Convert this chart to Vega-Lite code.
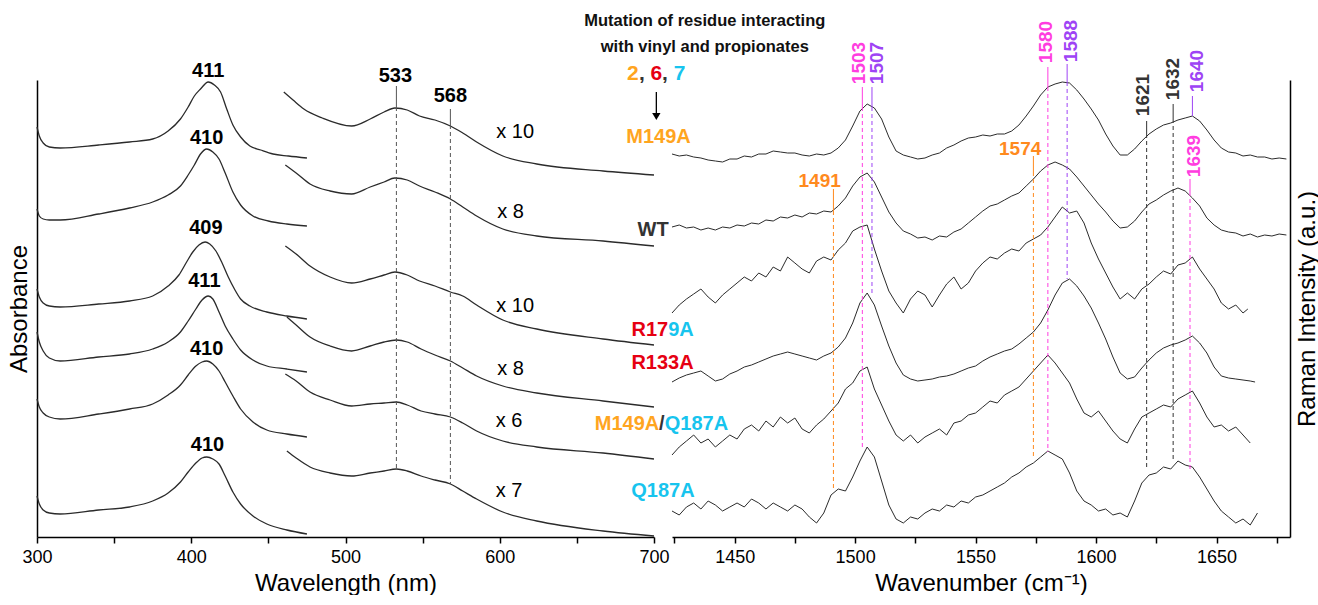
{
  "$schema": "https://vega.github.io/schema/vega-lite/v6.json",
  "autosize": {"type": "pad"},
  "padding": {"left": 7, "top": 12, "right": 0, "bottom": 0},
  "background": "white",
  "config": {
    "view": {"stroke": null},
    "font": "Liberation Sans",
    "axis": {"domainColor": "#000", "tickColor": "#000", "labelColor": "#000", "titleColor": "#000", "grid": false, "labelFontSize": 18, "titleFontSize": 24, "titleFontWeight": "normal", "domainWidth": 1.5, "tickWidth": 1.5, "labelFont": "Liberation Sans", "titleFont": "Liberation Sans"}
  },
  "datasets": {
    "uv": [
      {"t":"s1","x":300,"y":412},{"t":"s1","x":301.5,"y":403},{"t":"s1","x":304,"y":396},{"t":"s1","x":308,"y":392},{"t":"s1","x":315,"y":391},{"t":"s1","x":340,"y":394},{"t":"s1","x":360,"y":397},{"t":"s1","x":375,"y":400},{"t":"s1","x":385,"y":408},{"t":"s1","x":393,"y":420},{"t":"s1","x":398,"y":432},{"t":"s1","x":402,"y":443},{"t":"s1","x":406,"y":450},{"t":"s1","x":411,"y":457},{"t":"s1","x":415,"y":454},{"t":"s1","x":419,"y":447},{"t":"s1","x":423,"y":430},{"t":"s1","x":427,"y":414},{"t":"s1","x":432,"y":402},{"t":"s1","x":438,"y":393},{"t":"s1","x":445,"y":389},{"t":"s1","x":453,"y":385},{"t":"s1","x":463,"y":383},{"t":"s1","x":475,"y":381},
      {"t":"s2","x":300,"y":330},{"t":"s2","x":301.5,"y":323},{"t":"s2","x":304,"y":320},{"t":"s2","x":308,"y":319},{"t":"s2","x":315,"y":319},{"t":"s2","x":340,"y":325},{"t":"s2","x":360,"y":331},{"t":"s2","x":375,"y":337},{"t":"s2","x":385,"y":344},{"t":"s2","x":393,"y":353},{"t":"s2","x":398,"y":364},{"t":"s2","x":402,"y":374},{"t":"s2","x":406,"y":385},{"t":"s2","x":410,"y":390},{"t":"s2","x":414,"y":387},{"t":"s2","x":418,"y":380},{"t":"s2","x":422,"y":366},{"t":"s2","x":427,"y":347},{"t":"s2","x":432,"y":334},{"t":"s2","x":440,"y":323},{"t":"s2","x":450,"y":318},{"t":"s2","x":462,"y":315},{"t":"s2","x":475,"y":313},
      {"t":"s3","x":300,"y":250},{"t":"s3","x":301.5,"y":242},{"t":"s3","x":304,"y":236},{"t":"s3","x":308,"y":233},{"t":"s3","x":315,"y":232},{"t":"s3","x":340,"y":235},{"t":"s3","x":360,"y":238},{"t":"s3","x":375,"y":243},{"t":"s3","x":385,"y":253},{"t":"s3","x":392,"y":264},{"t":"s3","x":397,"y":277},{"t":"s3","x":401,"y":287},{"t":"s3","x":405,"y":294},{"t":"s3","x":409,"y":297},{"t":"s3","x":412,"y":295},{"t":"s3","x":416,"y":288},{"t":"s3","x":420,"y":276},{"t":"s3","x":424,"y":262},{"t":"s3","x":428,"y":250},{"t":"s3","x":432,"y":240},{"t":"s3","x":438,"y":233},{"t":"s3","x":449,"y":227},{"t":"s3","x":462,"y":223},{"t":"s3","x":475,"y":220},
      {"t":"s4","x":300,"y":207},{"t":"s4","x":301.5,"y":197},{"t":"s4","x":304,"y":188},{"t":"s4","x":308,"y":181},{"t":"s4","x":315,"y":178},{"t":"s4","x":340,"y":182},{"t":"s4","x":360,"y":185},{"t":"s4","x":375,"y":190},{"t":"s4","x":385,"y":197},{"t":"s4","x":393,"y":207},{"t":"s4","x":398,"y":218},{"t":"s4","x":403,"y":230},{"t":"s4","x":407,"y":239},{"t":"s4","x":411,"y":243},{"t":"s4","x":414,"y":240},{"t":"s4","x":418,"y":227},{"t":"s4","x":422,"y":213},{"t":"s4","x":427,"y":200},{"t":"s4","x":432,"y":189},{"t":"s4","x":440,"y":179},{"t":"s4","x":449,"y":173},{"t":"s4","x":462,"y":170},{"t":"s4","x":475,"y":167},
      {"t":"s5","x":300,"y":140},{"t":"s5","x":301.5,"y":132},{"t":"s5","x":304,"y":126},{"t":"s5","x":308,"y":122},{"t":"s5","x":315,"y":120},{"t":"s5","x":340,"y":125},{"t":"s5","x":360,"y":130},{"t":"s5","x":375,"y":135},{"t":"s5","x":385,"y":144},{"t":"s5","x":393,"y":154},{"t":"s5","x":398,"y":164},{"t":"s5","x":403,"y":173},{"t":"s5","x":407,"y":177},{"t":"s5","x":410,"y":178},{"t":"s5","x":414,"y":175},{"t":"s5","x":418,"y":168},{"t":"s5","x":422,"y":157},{"t":"s5","x":427,"y":143},{"t":"s5","x":432,"y":130},{"t":"s5","x":440,"y":117},{"t":"s5","x":449,"y":109},{"t":"s5","x":462,"y":105},{"t":"s5","x":475,"y":102},
      {"t":"s6","x":300,"y":43},{"t":"s6","x":301.5,"y":35},{"t":"s6","x":304,"y":29},{"t":"s6","x":308,"y":26},{"t":"s6","x":315,"y":25},{"t":"s6","x":340,"y":29},{"t":"s6","x":360,"y":32},{"t":"s6","x":375,"y":38},{"t":"s6","x":385,"y":46},{"t":"s6","x":393,"y":57},{"t":"s6","x":398,"y":67},{"t":"s6","x":403,"y":76},{"t":"s6","x":407,"y":81},{"t":"s6","x":410,"y":82},{"t":"s6","x":414,"y":80},{"t":"s6","x":418,"y":75},{"t":"s6","x":422,"y":63},{"t":"s6","x":427,"y":47},{"t":"s6","x":432,"y":35},{"t":"s6","x":440,"y":23},{"t":"s6","x":449,"y":15},{"t":"s6","x":462,"y":9},{"t":"s6","x":475,"y":5},
      {"t":"v1","x":460,"y":447},{"t":"v1","x":466,"y":439},{"t":"v1","x":473,"y":430},{"t":"v1","x":485,"y":421},{"t":"v1","x":504,"y":413},{"t":"v1","x":516,"y":420},{"t":"v1","x":525,"y":427},{"t":"v1","x":532,"y":431},{"t":"v1","x":540,"y":429},{"t":"v1","x":548,"y":423},{"t":"v1","x":558,"y":419},{"t":"v1","x":568,"y":413},{"t":"v1","x":576,"y":406},{"t":"v1","x":585,"y":397},{"t":"v1","x":602,"y":383},{"t":"v1","x":624,"y":375},{"t":"v1","x":667,"y":368},{"t":"v1","x":700,"y":364},
      {"t":"v2","x":461,"y":374},{"t":"v2","x":468,"y":366},{"t":"v2","x":477,"y":355},{"t":"v2","x":490,"y":348},{"t":"v2","x":504,"y":345},{"t":"v2","x":516,"y":352},{"t":"v2","x":525,"y":357},{"t":"v2","x":532,"y":361},{"t":"v2","x":540,"y":359},{"t":"v2","x":548,"y":353},{"t":"v2","x":558,"y":347},{"t":"v2","x":568,"y":340},{"t":"v2","x":576,"y":332},{"t":"v2","x":585,"y":323},{"t":"v2","x":602,"y":310},{"t":"v2","x":624,"y":303},{"t":"v2","x":667,"y":298},{"t":"v2","x":700,"y":293},
      {"t":"v3","x":461,"y":293},{"t":"v3","x":468,"y":285},{"t":"v3","x":477,"y":273},{"t":"v3","x":490,"y":262},{"t":"v3","x":504,"y":256},{"t":"v3","x":516,"y":260},{"t":"v3","x":525,"y":264},{"t":"v3","x":532,"y":267},{"t":"v3","x":540,"y":264},{"t":"v3","x":548,"y":258},{"t":"v3","x":558,"y":253},{"t":"v3","x":568,"y":247},{"t":"v3","x":576,"y":243},{"t":"v3","x":585,"y":234},{"t":"v3","x":602,"y":219},{"t":"v3","x":624,"y":210},{"t":"v3","x":667,"y":200},{"t":"v3","x":700,"y":194},
      {"t":"v4","x":462,"y":222},{"t":"v4","x":468,"y":214},{"t":"v4","x":477,"y":202},{"t":"v4","x":490,"y":193},{"t":"v4","x":504,"y":188},{"t":"v4","x":516,"y":193},{"t":"v4","x":525,"y":197},{"t":"v4","x":533,"y":199},{"t":"v4","x":540,"y":197},{"t":"v4","x":549,"y":190},{"t":"v4","x":558,"y":184},{"t":"v4","x":568,"y":178},{"t":"v4","x":576,"y":171},{"t":"v4","x":585,"y":163},{"t":"v4","x":602,"y":153},{"t":"v4","x":624,"y":146},{"t":"v4","x":667,"y":138},{"t":"v4","x":700,"y":132},
      {"t":"v5","x":461,"y":165},{"t":"v5","x":468,"y":158},{"t":"v5","x":477,"y":147},{"t":"v5","x":490,"y":139},{"t":"v5","x":504,"y":133},{"t":"v5","x":516,"y":135},{"t":"v5","x":525,"y":136},{"t":"v5","x":533,"y":137},{"t":"v5","x":540,"y":134},{"t":"v5","x":549,"y":128},{"t":"v5","x":558,"y":125},{"t":"v5","x":568,"y":122},{"t":"v5","x":576,"y":116},{"t":"v5","x":585,"y":108},{"t":"v5","x":602,"y":98},{"t":"v5","x":624,"y":92},{"t":"v5","x":667,"y":86},{"t":"v5","x":700,"y":80},
      {"t":"v6","x":462,"y":88},{"t":"v6","x":468,"y":81},{"t":"v6","x":477,"y":72},{"t":"v6","x":490,"y":66},{"t":"v6","x":504,"y":63},{"t":"v6","x":516,"y":66},{"t":"v6","x":525,"y":68},{"t":"v6","x":533,"y":70},{"t":"v6","x":540,"y":68},{"t":"v6","x":549,"y":63},{"t":"v6","x":558,"y":59},{"t":"v6","x":568,"y":55},{"t":"v6","x":576,"y":48},{"t":"v6","x":585,"y":40},{"t":"v6","x":602,"y":27},{"t":"v6","x":624,"y":18},{"t":"v6","x":667,"y":8},{"t":"v6","x":700,"y":3}
    ],
    "raman": [
      {"t":"R1","x":1424,"y":385},{"t":"R1","x":1427,"y":383},{"t":"R1","x":1430,"y":384},{"t":"R1","x":1433,"y":382},{"t":"R1","x":1436,"y":381},{"t":"R1","x":1439,"y":379},{"t":"R1","x":1442,"y":378},{"t":"R1","x":1445,"y":377},{"t":"R1","x":1448,"y":380},{"t":"R1","x":1451,"y":380},{"t":"R1","x":1454,"y":383},{"t":"R1","x":1457,"y":382},{"t":"R1","x":1460,"y":385},{"t":"R1","x":1463,"y":385},{"t":"R1","x":1466,"y":388},{"t":"R1","x":1469,"y":387},{"t":"R1","x":1472,"y":386},{"t":"R1","x":1475,"y":386},{"t":"R1","x":1478,"y":384},{"t":"R1","x":1481,"y":383},{"t":"R1","x":1484,"y":385},{"t":"R1","x":1487,"y":384},{"t":"R1","x":1490,"y":386},{"t":"R1","x":1493,"y":391},{"t":"R1","x":1496,"y":399},{"t":"R1","x":1499,"y":413},{"t":"R1","x":1502,"y":428},{"t":"R1","x":1505,"y":435},{"t":"R1","x":1508,"y":431},{"t":"R1","x":1511,"y":420},{"t":"R1","x":1514,"y":402},{"t":"R1","x":1517,"y":388},{"t":"R1","x":1520,"y":384},{"t":"R1","x":1523,"y":382},{"t":"R1","x":1526,"y":380},{"t":"R1","x":1529,"y":381},{"t":"R1","x":1532,"y":384},{"t":"R1","x":1535,"y":386},{"t":"R1","x":1538,"y":391},{"t":"R1","x":1541,"y":394},{"t":"R1","x":1544,"y":398},{"t":"R1","x":1547,"y":401},{"t":"R1","x":1550,"y":402},{"t":"R1","x":1553,"y":404},{"t":"R1","x":1556,"y":403},{"t":"R1","x":1559,"y":405},{"t":"R1","x":1562,"y":405},{"t":"R1","x":1565,"y":408},{"t":"R1","x":1568,"y":414},{"t":"R1","x":1571,"y":423},{"t":"R1","x":1574,"y":433},{"t":"R1","x":1577,"y":444},{"t":"R1","x":1580,"y":452},{"t":"R1","x":1583,"y":455},{"t":"R1","x":1586,"y":457},{"t":"R1","x":1589,"y":456},{"t":"R1","x":1592,"y":449},{"t":"R1","x":1595,"y":440},{"t":"R1","x":1598,"y":430},{"t":"R1","x":1601,"y":419},{"t":"R1","x":1604,"y":405},{"t":"R1","x":1607,"y":393},{"t":"R1","x":1610,"y":384},{"t":"R1","x":1613,"y":384},{"t":"R1","x":1616,"y":390},{"t":"R1","x":1619,"y":398},{"t":"R1","x":1622,"y":405},{"t":"R1","x":1625,"y":410},{"t":"R1","x":1628,"y":414},{"t":"R1","x":1631,"y":416},{"t":"R1","x":1634,"y":419},{"t":"R1","x":1637,"y":421},{"t":"R1","x":1640,"y":423},{"t":"R1","x":1643,"y":418},{"t":"R1","x":1646,"y":409},{"t":"R1","x":1649,"y":399},{"t":"R1","x":1652,"y":391},{"t":"R1","x":1655,"y":387},{"t":"R1","x":1658,"y":386},{"t":"R1","x":1661,"y":383},{"t":"R1","x":1664,"y":384},{"t":"R1","x":1667,"y":382},{"t":"R1","x":1670,"y":382},{"t":"R1","x":1673,"y":380},{"t":"R1","x":1676,"y":381},{"t":"R1","x":1679,"y":380},
      {"t":"R2","x":1424,"y":312},{"t":"R2","x":1427,"y":314},{"t":"R2","x":1430,"y":311},{"t":"R2","x":1433,"y":312},{"t":"R2","x":1436,"y":309},{"t":"R2","x":1439,"y":311},{"t":"R2","x":1442,"y":309},{"t":"R2","x":1445,"y":312},{"t":"R2","x":1448,"y":311},{"t":"R2","x":1451,"y":314},{"t":"R2","x":1454,"y":313},{"t":"R2","x":1457,"y":316},{"t":"R2","x":1460,"y":315},{"t":"R2","x":1463,"y":319},{"t":"R2","x":1466,"y":318},{"t":"R2","x":1469,"y":322},{"t":"R2","x":1472,"y":321},{"t":"R2","x":1475,"y":324},{"t":"R2","x":1478,"y":322},{"t":"R2","x":1481,"y":326},{"t":"R2","x":1484,"y":325},{"t":"R2","x":1487,"y":328},{"t":"R2","x":1490,"y":327},{"t":"R2","x":1493,"y":333},{"t":"R2","x":1496,"y":341},{"t":"R2","x":1499,"y":353},{"t":"R2","x":1502,"y":362},{"t":"R2","x":1505,"y":366},{"t":"R2","x":1508,"y":357},{"t":"R2","x":1511,"y":342},{"t":"R2","x":1514,"y":327},{"t":"R2","x":1517,"y":316},{"t":"R2","x":1520,"y":308},{"t":"R2","x":1523,"y":305},{"t":"R2","x":1526,"y":301},{"t":"R2","x":1529,"y":302},{"t":"R2","x":1532,"y":299},{"t":"R2","x":1535,"y":303},{"t":"R2","x":1538,"y":302},{"t":"R2","x":1541,"y":307},{"t":"R2","x":1544,"y":310},{"t":"R2","x":1547,"y":316},{"t":"R2","x":1550,"y":322},{"t":"R2","x":1553,"y":328},{"t":"R2","x":1556,"y":333},{"t":"R2","x":1559,"y":335},{"t":"R2","x":1562,"y":339},{"t":"R2","x":1565,"y":343},{"t":"R2","x":1568,"y":346},{"t":"R2","x":1571,"y":353},{"t":"R2","x":1574,"y":360},{"t":"R2","x":1577,"y":368},{"t":"R2","x":1580,"y":374},{"t":"R2","x":1583,"y":377},{"t":"R2","x":1586,"y":374},{"t":"R2","x":1589,"y":370},{"t":"R2","x":1592,"y":362},{"t":"R2","x":1595,"y":353},{"t":"R2","x":1598,"y":344},{"t":"R2","x":1601,"y":335},{"t":"R2","x":1604,"y":327},{"t":"R2","x":1607,"y":318},{"t":"R2","x":1610,"y":311},{"t":"R2","x":1613,"y":312},{"t":"R2","x":1616,"y":318},{"t":"R2","x":1619,"y":327},{"t":"R2","x":1622,"y":335},{"t":"R2","x":1625,"y":339},{"t":"R2","x":1628,"y":344},{"t":"R2","x":1631,"y":348},{"t":"R2","x":1634,"y":351},{"t":"R2","x":1637,"y":348},{"t":"R2","x":1640,"y":341},{"t":"R2","x":1643,"y":333},{"t":"R2","x":1646,"y":321},{"t":"R2","x":1649,"y":314},{"t":"R2","x":1652,"y":309},{"t":"R2","x":1655,"y":307},{"t":"R2","x":1658,"y":306},{"t":"R2","x":1661,"y":303},{"t":"R2","x":1664,"y":305},{"t":"R2","x":1667,"y":302},{"t":"R2","x":1670,"y":304},{"t":"R2","x":1673,"y":303},{"t":"R2","x":1676,"y":305},{"t":"R2","x":1679,"y":304},
      {"t":"R3","x":1424,"y":226},{"t":"R3","x":1427,"y":234},{"t":"R3","x":1430,"y":240},{"t":"R3","x":1433,"y":245},{"t":"R3","x":1436,"y":250},{"t":"R3","x":1439,"y":242},{"t":"R3","x":1442,"y":236},{"t":"R3","x":1445,"y":244},{"t":"R3","x":1448,"y":250},{"t":"R3","x":1451,"y":256},{"t":"R3","x":1454,"y":262},{"t":"R3","x":1457,"y":258},{"t":"R3","x":1460,"y":266},{"t":"R3","x":1463,"y":262},{"t":"R3","x":1466,"y":272},{"t":"R3","x":1469,"y":268},{"t":"R3","x":1472,"y":282},{"t":"R3","x":1475,"y":276},{"t":"R3","x":1478,"y":270},{"t":"R3","x":1481,"y":266},{"t":"R3","x":1484,"y":278},{"t":"R3","x":1487,"y":282},{"t":"R3","x":1490,"y":279},{"t":"R3","x":1493,"y":289},{"t":"R3","x":1496,"y":296},{"t":"R3","x":1499,"y":308},{"t":"R3","x":1502,"y":312},{"t":"R3","x":1505,"y":314},{"t":"R3","x":1508,"y":290},{"t":"R3","x":1511,"y":268},{"t":"R3","x":1514,"y":248},{"t":"R3","x":1517,"y":236},{"t":"R3","x":1520,"y":226},{"t":"R3","x":1523,"y":240},{"t":"R3","x":1526,"y":248},{"t":"R3","x":1529,"y":244},{"t":"R3","x":1532,"y":232},{"t":"R3","x":1535,"y":244},{"t":"R3","x":1538,"y":255},{"t":"R3","x":1541,"y":262},{"t":"R3","x":1544,"y":250},{"t":"R3","x":1547,"y":256},{"t":"R3","x":1550,"y":268},{"t":"R3","x":1553,"y":276},{"t":"R3","x":1556,"y":282},{"t":"R3","x":1559,"y":280},{"t":"R3","x":1562,"y":286},{"t":"R3","x":1565,"y":290},{"t":"R3","x":1568,"y":288},{"t":"R3","x":1571,"y":296},{"t":"R3","x":1574,"y":300},{"t":"R3","x":1577,"y":304},{"t":"R3","x":1580,"y":312},{"t":"R3","x":1583,"y":322},{"t":"R3","x":1586,"y":332},{"t":"R3","x":1589,"y":326},{"t":"R3","x":1592,"y":328},{"t":"R3","x":1595,"y":316},{"t":"R3","x":1598,"y":296},{"t":"R3","x":1601,"y":280},{"t":"R3","x":1604,"y":266},{"t":"R3","x":1607,"y":252},{"t":"R3","x":1610,"y":240},{"t":"R3","x":1613,"y":246},{"t":"R3","x":1616,"y":240},{"t":"R3","x":1619,"y":250},{"t":"R3","x":1622,"y":255},{"t":"R3","x":1625,"y":262},{"t":"R3","x":1628,"y":268},{"t":"R3","x":1631,"y":265},{"t":"R3","x":1634,"y":274},{"t":"R3","x":1637,"y":276},{"t":"R3","x":1640,"y":282},{"t":"R3","x":1643,"y":270},{"t":"R3","x":1646,"y":260},{"t":"R3","x":1649,"y":250},{"t":"R3","x":1652,"y":236},{"t":"R3","x":1655,"y":230},{"t":"R3","x":1658,"y":234},{"t":"R3","x":1661,"y":226},{"t":"R3","x":1663,"y":230},
      {"t":"R4","x":1424,"y":157},{"t":"R4","x":1427,"y":161},{"t":"R4","x":1430,"y":164},{"t":"R4","x":1433,"y":166},{"t":"R4","x":1436,"y":168},{"t":"R4","x":1439,"y":163},{"t":"R4","x":1442,"y":158},{"t":"R4","x":1445,"y":160},{"t":"R4","x":1448,"y":165},{"t":"R4","x":1451,"y":168},{"t":"R4","x":1454,"y":172},{"t":"R4","x":1457,"y":174},{"t":"R4","x":1460,"y":177},{"t":"R4","x":1463,"y":180},{"t":"R4","x":1466,"y":183},{"t":"R4","x":1469,"y":185},{"t":"R4","x":1472,"y":187},{"t":"R4","x":1475,"y":185},{"t":"R4","x":1478,"y":183},{"t":"R4","x":1481,"y":181},{"t":"R4","x":1484,"y":179},{"t":"R4","x":1487,"y":183},{"t":"R4","x":1490,"y":186},{"t":"R4","x":1493,"y":192},{"t":"R4","x":1496,"y":201},{"t":"R4","x":1499,"y":216},{"t":"R4","x":1502,"y":236},{"t":"R4","x":1505,"y":246},{"t":"R4","x":1508,"y":234},{"t":"R4","x":1511,"y":213},{"t":"R4","x":1514,"y":193},{"t":"R4","x":1517,"y":176},{"t":"R4","x":1520,"y":164},{"t":"R4","x":1523,"y":160},{"t":"R4","x":1526,"y":158},{"t":"R4","x":1529,"y":159},{"t":"R4","x":1532,"y":160},{"t":"R4","x":1535,"y":162},{"t":"R4","x":1538,"y":163},{"t":"R4","x":1541,"y":165},{"t":"R4","x":1544,"y":168},{"t":"R4","x":1547,"y":171},{"t":"R4","x":1550,"y":173},{"t":"R4","x":1553,"y":178},{"t":"R4","x":1556,"y":182},{"t":"R4","x":1559,"y":185},{"t":"R4","x":1562,"y":188},{"t":"R4","x":1565,"y":190},{"t":"R4","x":1568,"y":195},{"t":"R4","x":1571,"y":201},{"t":"R4","x":1574,"y":207},{"t":"R4","x":1577,"y":216},{"t":"R4","x":1580,"y":229},{"t":"R4","x":1583,"y":244},{"t":"R4","x":1586,"y":256},{"t":"R4","x":1589,"y":260},{"t":"R4","x":1592,"y":253},{"t":"R4","x":1595,"y":243},{"t":"R4","x":1598,"y":231},{"t":"R4","x":1601,"y":216},{"t":"R4","x":1604,"y":200},{"t":"R4","x":1607,"y":182},{"t":"R4","x":1610,"y":166},{"t":"R4","x":1613,"y":160},{"t":"R4","x":1616,"y":162},{"t":"R4","x":1619,"y":171},{"t":"R4","x":1622,"y":179},{"t":"R4","x":1625,"y":186},{"t":"R4","x":1628,"y":191},{"t":"R4","x":1631,"y":194},{"t":"R4","x":1634,"y":196},{"t":"R4","x":1637,"y":199},{"t":"R4","x":1640,"y":203},{"t":"R4","x":1643,"y":196},{"t":"R4","x":1646,"y":186},{"t":"R4","x":1649,"y":172},{"t":"R4","x":1652,"y":163},{"t":"R4","x":1655,"y":161},{"t":"R4","x":1658,"y":160},{"t":"R4","x":1661,"y":159},{"t":"R4","x":1664,"y":158},{"t":"R4","x":1666,"y":157},
      {"t":"R5","x":1424,"y":84},{"t":"R5","x":1427,"y":92},{"t":"R5","x":1430,"y":98},{"t":"R5","x":1433,"y":104},{"t":"R5","x":1436,"y":96},{"t":"R5","x":1439,"y":100},{"t":"R5","x":1442,"y":92},{"t":"R5","x":1445,"y":98},{"t":"R5","x":1448,"y":104},{"t":"R5","x":1451,"y":100},{"t":"R5","x":1454,"y":110},{"t":"R5","x":1457,"y":114},{"t":"R5","x":1460,"y":108},{"t":"R5","x":1463,"y":118},{"t":"R5","x":1466,"y":112},{"t":"R5","x":1469,"y":122},{"t":"R5","x":1472,"y":116},{"t":"R5","x":1475,"y":121},{"t":"R5","x":1478,"y":110},{"t":"R5","x":1481,"y":106},{"t":"R5","x":1484,"y":114},{"t":"R5","x":1487,"y":120},{"t":"R5","x":1490,"y":128},{"t":"R5","x":1493,"y":136},{"t":"R5","x":1496,"y":150},{"t":"R5","x":1499,"y":156},{"t":"R5","x":1502,"y":168},{"t":"R5","x":1505,"y":172},{"t":"R5","x":1508,"y":150},{"t":"R5","x":1511,"y":134},{"t":"R5","x":1514,"y":118},{"t":"R5","x":1517,"y":104},{"t":"R5","x":1520,"y":98},{"t":"R5","x":1523,"y":104},{"t":"R5","x":1526,"y":96},{"t":"R5","x":1529,"y":102},{"t":"R5","x":1532,"y":106},{"t":"R5","x":1535,"y":110},{"t":"R5","x":1538,"y":104},{"t":"R5","x":1541,"y":116},{"t":"R5","x":1544,"y":118},{"t":"R5","x":1547,"y":124},{"t":"R5","x":1550,"y":126},{"t":"R5","x":1553,"y":132},{"t":"R5","x":1556,"y":138},{"t":"R5","x":1559,"y":136},{"t":"R5","x":1562,"y":144},{"t":"R5","x":1565,"y":148},{"t":"R5","x":1568,"y":152},{"t":"R5","x":1571,"y":160},{"t":"R5","x":1574,"y":168},{"t":"R5","x":1577,"y":176},{"t":"R5","x":1580,"y":184},{"t":"R5","x":1583,"y":176},{"t":"R5","x":1586,"y":166},{"t":"R5","x":1589,"y":156},{"t":"R5","x":1592,"y":140},{"t":"R5","x":1595,"y":126},{"t":"R5","x":1598,"y":122},{"t":"R5","x":1601,"y":128},{"t":"R5","x":1604,"y":118},{"t":"R5","x":1607,"y":108},{"t":"R5","x":1610,"y":100},{"t":"R5","x":1613,"y":96},{"t":"R5","x":1616,"y":110},{"t":"R5","x":1619,"y":122},{"t":"R5","x":1622,"y":126},{"t":"R5","x":1625,"y":130},{"t":"R5","x":1628,"y":134},{"t":"R5","x":1631,"y":132},{"t":"R5","x":1634,"y":140},{"t":"R5","x":1637,"y":144},{"t":"R5","x":1640,"y":148},{"t":"R5","x":1643,"y":136},{"t":"R5","x":1646,"y":122},{"t":"R5","x":1649,"y":112},{"t":"R5","x":1652,"y":114},{"t":"R5","x":1655,"y":108},{"t":"R5","x":1658,"y":112},{"t":"R5","x":1661,"y":104},{"t":"R5","x":1664,"y":96},
      {"t":"R6","x":1424,"y":28},{"t":"R6","x":1427,"y":24},{"t":"R6","x":1430,"y":32},{"t":"R6","x":1433,"y":36},{"t":"R6","x":1436,"y":30},{"t":"R6","x":1439,"y":38},{"t":"R6","x":1442,"y":34},{"t":"R6","x":1445,"y":28},{"t":"R6","x":1448,"y":32},{"t":"R6","x":1451,"y":36},{"t":"R6","x":1454,"y":32},{"t":"R6","x":1457,"y":40},{"t":"R6","x":1460,"y":36},{"t":"R6","x":1463,"y":30},{"t":"R6","x":1466,"y":36},{"t":"R6","x":1469,"y":32},{"t":"R6","x":1472,"y":28},{"t":"R6","x":1475,"y":34},{"t":"R6","x":1478,"y":30},{"t":"R6","x":1481,"y":22},{"t":"R6","x":1484,"y":16},{"t":"R6","x":1487,"y":26},{"t":"R6","x":1490,"y":44},{"t":"R6","x":1493,"y":50},{"t":"R6","x":1496,"y":48},{"t":"R6","x":1499,"y":62},{"t":"R6","x":1502,"y":78},{"t":"R6","x":1505,"y":92},{"t":"R6","x":1508,"y":82},{"t":"R6","x":1511,"y":58},{"t":"R6","x":1514,"y":34},{"t":"R6","x":1517,"y":20},{"t":"R6","x":1520,"y":16},{"t":"R6","x":1523,"y":22},{"t":"R6","x":1526,"y":20},{"t":"R6","x":1529,"y":26},{"t":"R6","x":1532,"y":30},{"t":"R6","x":1535,"y":28},{"t":"R6","x":1538,"y":34},{"t":"R6","x":1541,"y":32},{"t":"R6","x":1544,"y":38},{"t":"R6","x":1547,"y":36},{"t":"R6","x":1550,"y":42},{"t":"R6","x":1553,"y":44},{"t":"R6","x":1556,"y":48},{"t":"R6","x":1559,"y":52},{"t":"R6","x":1562,"y":56},{"t":"R6","x":1565,"y":62},{"t":"R6","x":1568,"y":66},{"t":"R6","x":1571,"y":72},{"t":"R6","x":1574,"y":76},{"t":"R6","x":1577,"y":82},{"t":"R6","x":1580,"y":88},{"t":"R6","x":1583,"y":84},{"t":"R6","x":1586,"y":80},{"t":"R6","x":1589,"y":66},{"t":"R6","x":1592,"y":48},{"t":"R6","x":1595,"y":38},{"t":"R6","x":1598,"y":34},{"t":"R6","x":1601,"y":28},{"t":"R6","x":1604,"y":30},{"t":"R6","x":1607,"y":24},{"t":"R6","x":1610,"y":26},{"t":"R6","x":1613,"y":22},{"t":"R6","x":1616,"y":38},{"t":"R6","x":1619,"y":56},{"t":"R6","x":1622,"y":64},{"t":"R6","x":1625,"y":66},{"t":"R6","x":1628,"y":72},{"t":"R6","x":1631,"y":70},{"t":"R6","x":1634,"y":78},{"t":"R6","x":1637,"y":74},{"t":"R6","x":1640,"y":72},{"t":"R6","x":1643,"y":62},{"t":"R6","x":1646,"y":50},{"t":"R6","x":1649,"y":38},{"t":"R6","x":1652,"y":28},{"t":"R6","x":1655,"y":22},{"t":"R6","x":1658,"y":16},{"t":"R6","x":1661,"y":20},{"t":"R6","x":1664,"y":14},{"t":"R6","x":1667,"y":26}
    ],
    "refL": [
      {"x":533,"y":453,"y2":432,"seg":"stem"},{"x":533,"y":432,"y2":70,"seg":"guide"},
      {"x":568,"y":430,"y2":414,"seg":"stem"},{"x":568,"y":414,"y2":55,"seg":"guide"}
    ],
    "refR": [
      {"x":1491,"y":350,"y2":328,"set":"orange","seg":"stem"},{"x":1491,"y":328,"y2":50,"set":"orange","seg":"guide"},
      {"x":1503,"y":452,"y2":432,"set":"magenta","seg":"stem"},{"x":1503,"y":432,"y2":90,"set":"magenta","seg":"guide"},
      {"x":1507,"y":452,"y2":432,"set":"purple","seg":"stem"},{"x":1507,"y":432,"y2":244,"set":"purple","seg":"guide"},
      {"x":1574,"y":383,"y2":367,"set":"orange","seg":"stem"},{"x":1574,"y":367,"y2":80,"set":"orange","seg":"guide"},
      {"x":1580,"y":472,"y2":452,"set":"magenta","seg":"stem"},{"x":1580,"y":452,"y2":87,"set":"magenta","seg":"guide"},
      {"x":1588,"y":475,"y2":457,"set":"purple","seg":"stem"},{"x":1588,"y":457,"y2":260,"set":"purple","seg":"guide"},
      {"x":1621,"y":418,"y2":405,"set":"black","seg":"stem"},{"x":1621,"y":405,"y2":70,"set":"black","seg":"guide"},
      {"x":1632,"y":435,"y2":420,"set":"black","seg":"stem"},{"x":1632,"y":420,"y2":80,"set":"black","seg":"guide"},
      {"x":1640,"y":443,"y2":423,"set":"purple","seg":"stem"},
      {"x":1639,"y":360,"y2":347,"set":"magenta","seg":"stem"},{"x":1639,"y":347,"y2":70,"set":"magenta","seg":"guide"}
    ],
    "peakL": [
      {"x":411,"y":468,"text":"411"},{"x":410,"y":401,"text":"410"},{"x":409.5,"y":311,"text":"409"},{"x":408.5,"y":258,"text":"411"},{"x":410,"y":190,"text":"410"},{"x":410.5,"y":94,"text":"410"},{"x":532.3,"y":463,"text":"533"},{"x":568,"y":443,"text":"568"}
    ],
    "multL": [
      {"x":610,"y":407,"text":"x 10"},{"x":607,"y":327,"text":"x 8"},{"x":610,"y":233,"text":"x 10"},{"x":607,"y":170,"text":"x 8"},{"x":606,"y":118,"text":"x 6"},{"x":606,"y":48,"text":"x 7"}
    ],
    "rotR": [
      {"x":1501.6,"y":476,"text":"1503","set":"magenta"},{"x":1508.9,"y":476,"text":"1507","set":"purple"},{"x":1579.3,"y":497,"text":"1580","set":"magenta"},{"x":1589.7,"y":498,"text":"1588","set":"purple"},{"x":1619.6,"y":444,"text":"1621","set":"black"},{"x":1632.1,"y":460,"text":"1632","set":"black"},{"x":1642,"y":468,"text":"1640","set":"purple"},{"x":1640.8,"y":383,"text":"1639","set":"magenta"}
    ],
    "horR": [
      {"x":1485.3,"y":358,"text":"1491","set":"orange"},{"x":1568.5,"y":390,"text":"1574","set":"orange"}
    ],
    "titleR": [
      {"x":1437.6,"y":518,"text":"Mutation of residue interacting"},{"x":1437.6,"y":492,"text":"with vinyl and propionates"}
    ],
    "numsR": [
      {"x":1407.8,"y":465,"text":"2","set":"gold"},{"x":1411.5,"y":465,"text":",","set":"black"},{"x":1417.5,"y":465,"text":"6","set":"red"},{"x":1421.1,"y":465,"text":",","set":"black"},{"x":1427.2,"y":465,"text":"7","set":"cyan"}
    ],
    "arrowR": [{"x":1417.5,"y":447,"y2":426}],
    "headR": [{"x":1417.5,"y":422.5}],
    "mutRight": [
      {"x":1431.8,"y":402,"text":"M149A","set":"gold"},{"x":1422.6,"y":309,"text":"WT","set":"black"},{"x":1422.4,"y":209,"text":"R17","set":"red"},{"x":1433,"y":176,"text":"R133A","set":"red"},{"x":1418.7,"y":115,"text":"M149A","set":"gold"},{"x":1433.4,"y":48,"text":"Q187A","set":"cyan"}
    ],
    "mutLeft": [
      {"x":1422.4,"y":209,"text":"9A","set":"cyan"},{"x":1421,"y":115,"text":"Q187A","set":"cyan"}
    ],
    "mutCenter": [
      {"x":1419.8,"y":115,"text":"/","set":"black"}
    ]
  },
  "hconcat": [
    {
      "width": 617,
      "height": 457,
      "layer": [
        {
          "data": {"name": "uv"},
          "mark": {"type": "line", "color": "#2b2b2b", "strokeWidth": 1.3, "interpolate": "monotone"},
          "encoding": {
            "x": {"field": "x", "type": "quantitative", "scale": {"domain": [300, 700], "nice": false, "zero": false},
                  "axis": {"title": "Wavelength (nm)", "format": "d", "values": [300, 350, 400, 450, 500, 550, 600, 650, 700], "labelExpr": "datum.value % 100 === 0 ? datum.label : ''", "labelFlush": false, "labelOverlap": false, "tickSize": 6, "labelPadding": 5, "titlePadding": 5}},
            "y": {"field": "y", "type": "quantitative", "scale": {"domain": [2, 459], "nice": false, "zero": false},
                  "axis": {"title": "Absorbance", "labels": false, "ticks": false, "titlePadding": 6}},
            "detail": {"field": "t", "type": "nominal"}
          }
        },
        {
          "data": {"name": "refL"},
          "mark": {"type": "rule", "color": "#555", "strokeWidth": 1},
          "encoding": {
            "x": {"field": "x", "type": "quantitative", "scale": {"domain": [300, 700], "nice": false, "zero": false}},
            "y": {"field": "y", "type": "quantitative", "scale": {"domain": [2, 459], "nice": false, "zero": false}},
            "y2": {"field": "y2"},
            "strokeDash": {"field": "seg", "type": "nominal", "scale": {"domain": ["stem", "guide"], "range": [[1, 0], [4, 3]]}, "legend": null}
          }
        },
        {
          "data": {"name": "peakL"},
          "mark": {"type": "text", "font": "Liberation Sans", "fontWeight": "bold", "fontSize": 20, "color": "#000", "align": "center", "baseline": "middle"},
          "encoding": {
            "x": {"field": "x", "type": "quantitative", "scale": {"domain": [300, 700], "nice": false, "zero": false}},
            "y": {"field": "y", "type": "quantitative", "scale": {"domain": [2, 459], "nice": false, "zero": false}},
            "text": {"field": "text"}
          }
        },
        {
          "data": {"name": "multL"},
          "mark": {"type": "text", "font": "Liberation Sans", "fontSize": 20, "color": "#000", "align": "center", "baseline": "middle"},
          "encoding": {
            "x": {"field": "x", "type": "quantitative", "scale": {"domain": [300, 700], "nice": false, "zero": false}},
            "y": {"field": "y", "type": "quantitative", "scale": {"domain": [2, 459], "nice": false, "zero": false}},
            "text": {"field": "text"}
          }
        }
      ]
    },
    {
      "width": 618,
      "height": 457,
      "layer": [
        {
          "data": {"name": "raman"},
          "mark": {"type": "line", "color": "#2b2b2b", "strokeWidth": 1},
          "encoding": {
            "x": {"field": "x", "type": "quantitative", "scale": {"domain": [1424, 1680.5], "nice": false, "zero": false},
                  "axis": {"title": "Wavenumber (cm⁻¹)", "format": "d", "values": [1425, 1450, 1475, 1500, 1525, 1550, 1575, 1600, 1625, 1650, 1675], "labelExpr": "datum.value % 50 === 0 ? datum.label : ''", "labelFlush": false, "labelOverlap": false, "tickSize": 6, "labelPadding": 5, "titlePadding": 5}},
            "y": {"field": "y", "type": "quantitative", "scale": {"domain": [2, 459], "nice": false, "zero": false},
                  "axis": {"orient": "right", "title": "Raman Intensity (a.u.)", "labels": false, "ticks": false, "titleAngle": 270, "titleBaseline": "top", "titlePadding": 5}},
            "detail": {"field": "t", "type": "nominal"}
          }
        },
        {
          "data": {"name": "refR"},
          "mark": {"type": "rule", "strokeWidth": 1},
          "encoding": {
            "x": {"field": "x", "type": "quantitative", "scale": {"domain": [1424, 1680.5], "nice": false, "zero": false}},
            "y": {"field": "y", "type": "quantitative", "scale": {"domain": [2, 459], "nice": false, "zero": false}},
            "y2": {"field": "y2"},
            "color": {"field": "set", "type": "nominal", "scale": {"domain": ["orange", "magenta", "purple", "black", "gold", "red", "cyan"], "range": ["#FF8A1E", "#FF3DE0", "#9E44F5", "#333333", "#FFA51F", "#E60012", "#17C4EE"]}, "legend": null},
            "strokeDash": {"field": "seg", "type": "nominal", "scale": {"domain": ["stem", "guide"], "range": [[1, 0], [4, 3]]}, "legend": null}
          }
        },
        {
          "data": {"name": "rotR"},
          "mark": {"type": "text", "font": "Liberation Sans", "fontWeight": "bold", "fontSize": 19, "angle": 270, "align": "center", "baseline": "middle"},
          "encoding": {
            "x": {"field": "x", "type": "quantitative", "scale": {"domain": [1424, 1680.5], "nice": false, "zero": false}},
            "y": {"field": "y", "type": "quantitative", "scale": {"domain": [2, 459], "nice": false, "zero": false}},
            "text": {"field": "text"},
            "color": {"field": "set", "type": "nominal", "scale": {"domain": ["orange", "magenta", "purple", "black", "gold", "red", "cyan"], "range": ["#FF8A1E", "#FF3DE0", "#9E44F5", "#111111", "#FFA51F", "#E60012", "#17C4EE"]}, "legend": null}
          }
        },
        {
          "data": {"name": "horR"},
          "mark": {"type": "text", "font": "Liberation Sans", "fontWeight": "bold", "fontSize": 19, "align": "center", "baseline": "middle"},
          "encoding": {
            "x": {"field": "x", "type": "quantitative", "scale": {"domain": [1424, 1680.5], "nice": false, "zero": false}},
            "y": {"field": "y", "type": "quantitative", "scale": {"domain": [2, 459], "nice": false, "zero": false}},
            "text": {"field": "text"},
            "color": {"field": "set", "type": "nominal", "scale": {"domain": ["orange", "magenta", "purple", "black", "gold", "red", "cyan"], "range": ["#FF8A1E", "#FF3DE0", "#9E44F5", "#111111", "#FFA51F", "#E60012", "#17C4EE"]}, "legend": null}
          }
        },
        {
          "data": {"name": "titleR"},
          "mark": {"type": "text", "font": "Liberation Sans", "fontWeight": "bold", "fontSize": 16.5, "color": "#111", "align": "center", "baseline": "middle"},
          "encoding": {
            "x": {"field": "x", "type": "quantitative", "scale": {"domain": [1424, 1680.5], "nice": false, "zero": false}},
            "y": {"field": "y", "type": "quantitative", "scale": {"domain": [2, 459], "nice": false, "zero": false}},
            "text": {"field": "text"}
          }
        },
        {
          "data": {"name": "numsR"},
          "mark": {"type": "text", "font": "Liberation Sans", "fontWeight": "bold", "fontSize": 21, "align": "center", "baseline": "middle"},
          "encoding": {
            "x": {"field": "x", "type": "quantitative", "scale": {"domain": [1424, 1680.5], "nice": false, "zero": false}},
            "y": {"field": "y", "type": "quantitative", "scale": {"domain": [2, 459], "nice": false, "zero": false}},
            "text": {"field": "text"},
            "color": {"field": "set", "type": "nominal", "scale": {"domain": ["orange", "magenta", "purple", "black", "gold", "red", "cyan"], "range": ["#FF8A1E", "#FF3DE0", "#9E44F5", "#111111", "#FFA51F", "#E60012", "#17C4EE"]}, "legend": null}
          }
        },
        {
          "data": {"name": "arrowR"},
          "mark": {"type": "rule", "color": "#000", "strokeWidth": 1.3},
          "encoding": {
            "x": {"field": "x", "type": "quantitative", "scale": {"domain": [1424, 1680.5], "nice": false, "zero": false}},
            "y": {"field": "y", "type": "quantitative", "scale": {"domain": [2, 459], "nice": false, "zero": false}},
            "y2": {"field": "y2"}
          }
        },
        {
          "data": {"name": "headR"},
          "mark": {"type": "point", "shape": "triangle-down", "filled": true, "color": "#000", "size": 70, "opacity": 1},
          "encoding": {
            "x": {"field": "x", "type": "quantitative", "scale": {"domain": [1424, 1680.5], "nice": false, "zero": false}},
            "y": {"field": "y", "type": "quantitative", "scale": {"domain": [2, 459], "nice": false, "zero": false}}
          }
        },
        {
          "data": {"name": "mutRight"},
          "mark": {"type": "text", "font": "Liberation Sans", "fontWeight": "bold", "fontSize": 20, "align": "right", "baseline": "middle"},
          "encoding": {
            "x": {"field": "x", "type": "quantitative", "scale": {"domain": [1424, 1680.5], "nice": false, "zero": false}},
            "y": {"field": "y", "type": "quantitative", "scale": {"domain": [2, 459], "nice": false, "zero": false}},
            "text": {"field": "text"},
            "color": {"field": "set", "type": "nominal", "scale": {"domain": ["orange", "magenta", "purple", "black", "gold", "red", "cyan"], "range": ["#FF8A1E", "#FF3DE0", "#9E44F5", "#111111", "#FFA51F", "#E60012", "#17C4EE"]}, "legend": null}
          }
        },
        {
          "data": {"name": "mutLeft"},
          "mark": {"type": "text", "font": "Liberation Sans", "fontWeight": "bold", "fontSize": 20, "align": "left", "baseline": "middle"},
          "encoding": {
            "x": {"field": "x", "type": "quantitative", "scale": {"domain": [1424, 1680.5], "nice": false, "zero": false}},
            "y": {"field": "y", "type": "quantitative", "scale": {"domain": [2, 459], "nice": false, "zero": false}},
            "text": {"field": "text"},
            "color": {"field": "set", "type": "nominal", "scale": {"domain": ["orange", "magenta", "purple", "black", "gold", "red", "cyan"], "range": ["#FF8A1E", "#FF3DE0", "#9E44F5", "#111111", "#FFA51F", "#E60012", "#17C4EE"]}, "legend": null}
          }
        },
        {
          "data": {"name": "mutCenter"},
          "mark": {"type": "text", "font": "Liberation Sans", "fontWeight": "bold", "fontSize": 20, "align": "center", "baseline": "middle"},
          "encoding": {
            "x": {"field": "x", "type": "quantitative", "scale": {"domain": [1424, 1680.5], "nice": false, "zero": false}},
            "y": {"field": "y", "type": "quantitative", "scale": {"domain": [2, 459], "nice": false, "zero": false}},
            "text": {"field": "text"},
            "color": {"field": "set", "type": "nominal", "scale": {"domain": ["orange", "magenta", "purple", "black", "gold", "red", "cyan"], "range": ["#FF8A1E", "#FF3DE0", "#9E44F5", "#111111", "#FFA51F", "#E60012", "#17C4EE"]}, "legend": null}
          }
        }
      ]
    }
  ],
  "spacing": 18,
  "bounds": "flush"
}
